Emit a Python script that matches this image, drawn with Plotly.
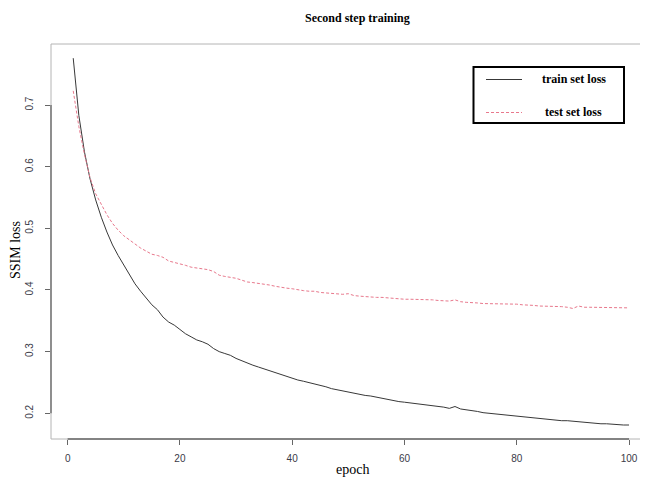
import plotly.graph_objects as go

epochs = list(range(1, 101))

train_loss = [
    0.776, 0.683, 0.624, 0.580, 0.546, 0.518, 0.494, 0.473, 0.456, 0.440,
    0.424, 0.410, 0.398, 0.387, 0.376, 0.368, 0.356, 0.348, 0.343, 0.336,
    0.329, 0.324, 0.319, 0.316, 0.312, 0.305, 0.300, 0.297, 0.294, 0.289,
    0.285, 0.281, 0.278, 0.275, 0.272, 0.268, 0.265, 0.262, 0.260, 0.257,
    0.254, 0.252, 0.250, 0.248, 0.245, 0.243, 0.240, 0.238, 0.236, 0.234,
    0.232, 0.230, 0.229, 0.228, 0.226, 0.224, 0.222, 0.220, 0.219, 0.218,
    0.217, 0.216, 0.215, 0.214, 0.212, 0.211, 0.210, 0.208, 0.211, 0.207,
    0.206, 0.204, 0.203, 0.201, 0.200, 0.199, 0.198, 0.197, 0.197, 0.196,
    0.195, 0.194, 0.193, 0.192, 0.191, 0.190, 0.189, 0.188, 0.188, 0.187,
    0.186, 0.186, 0.185, 0.184, 0.183, 0.183, 0.182, 0.182, 0.181, 0.181,
]

test_loss = [
    0.723, 0.665, 0.620, 0.582, 0.556, 0.538, 0.522, 0.508, 0.497, 0.488,
    0.481, 0.474, 0.468, 0.463, 0.458, 0.456, 0.453, 0.447, 0.445, 0.442,
    0.440, 0.437, 0.436, 0.435, 0.433, 0.430, 0.424, 0.422, 0.421, 0.419,
    0.416, 0.413, 0.412, 0.411, 0.410, 0.408, 0.406, 0.404, 0.403, 0.402,
    0.400, 0.399, 0.398, 0.398, 0.396, 0.395, 0.394, 0.393, 0.393, 0.394,
    0.391, 0.390, 0.389, 0.389, 0.388, 0.388, 0.387, 0.386, 0.386, 0.385,
    0.385, 0.385, 0.384, 0.384, 0.384, 0.383, 0.382, 0.382, 0.384, 0.381,
    0.380, 0.380, 0.379, 0.378, 0.378, 0.378, 0.377, 0.377, 0.377, 0.377,
    0.376, 0.376, 0.375, 0.374, 0.374, 0.374, 0.373, 0.373, 0.372, 0.370,
    0.374, 0.372, 0.372, 0.372, 0.372, 0.372, 0.372, 0.371, 0.371, 0.371,
]

x_ticks = [0, 20, 40, 60, 80, 100]
y_ticks = [0.2, 0.3, 0.4, 0.5, 0.6, 0.7]
series_names = ["train set loss", "test set loss"]
title_text = "Second step training"
x_title = "epoch"
y_title = "SSIM loss"

TRAIN_COLOR = "#383838"
TEST_COLOR = "#E8788C"
SERIF = "Liberation Serif, Times New Roman, serif"
SANS = "Liberation Sans, Arial, sans-serif"
TICK_FONT = dict(family=SANS, size=10, color="#3a3a48")

# the page body keeps its default 8px margin, so the figure is 8px smaller
OFF = 8
W, H = 648 - OFF, 479 - OFF
L, R, T, B = 51 - OFF, 0, 44 - OFF, 40
PW, PH = W - L - R, H - T - B


def px(xp):
    return (xp - OFF - L) / PW


def py(yp):
    return (H - B - (yp - OFF)) / PH


fig = go.Figure()
fig.add_trace(go.Scatter(x=epochs, y=train_loss, mode="lines", name=series_names[0],
                         line=dict(color=TRAIN_COLOR, width=1), showlegend=False))
fig.add_trace(go.Scatter(x=epochs, y=test_loss, mode="lines", name=series_names[1],
                         line=dict(color=TEST_COLOR, width=1, dash="3px,2px"), showlegend=False))

axis_common = dict(showgrid=False, zeroline=False, showline=False, ticks="outside",
                   ticklen=5, tickcolor="#666666", tickwidth=1, automargin=False,
                   tickfont=TICK_FONT)

# first x tick label ("0") is drawn as an annotation below, since plotly drops it here
x_ticktext = ["" if v == x_ticks[0] else str(v) for v in x_ticks]

fig.update_layout(
    width=W, height=H,
    margin=dict(l=L, r=R, t=T, b=B, autoexpand=False),
    paper_bgcolor="white", plot_bgcolor="white",
    xaxis=dict(range=[-2.96, 103.38], tickmode="array", tickvals=x_ticks,
               ticktext=x_ticktext, ticklabelstandoff=5, **axis_common),
    yaxis=dict(range=[0.1583, 0.799], tickmode="array", tickvals=y_ticks,
               ticktext=[f"{v:.1f}" for v in y_ticks],
               tickangle=-90, ticklabelstandoff=8, **axis_common),
    showlegend=False,
)

shapes = []
box = "#b4b4b4"
shapes.append(dict(type="line", xref="paper", yref="paper", x0=0, x1=1, y0=1, y1=1, line=dict(color=box, width=1)))
shapes.append(dict(type="line", xref="paper", yref="paper", x0=0, x1=0, y0=0, y1=1, line=dict(color=box, width=1)))
shapes.append(dict(type="line", xref="paper", yref="paper", x0=0, x1=1, y0=0, y1=0, line=dict(color=box, width=1)))
shapes.append(dict(type="line", xref="paper", yref="y", x0=0, x1=0, y0=y_ticks[0], y1=y_ticks[-1],
                   line=dict(color="#666666", width=1.3)))
shapes.append(dict(type="line", xref="x", yref="paper", x0=x_ticks[0], x1=x_ticks[-1], y0=0, y1=0,
                   line=dict(color="#666666", width=1.3)))
shapes.append(dict(type="rect", xref="paper", yref="paper", x0=px(473.5), x1=px(624), y0=py(67), y1=py(123),
                   line=dict(color="black", width=2), fillcolor="white", layer="above"))
shapes.append(dict(type="line", xref="paper", yref="paper", x0=px(486), x1=px(522), y0=py(79.5), y1=py(79.5),
                   line=dict(color=TRAIN_COLOR, width=1), layer="above"))
shapes.append(dict(type="line", xref="paper", yref="paper", x0=px(486), x1=px(522), y0=py(112.5), y1=py(112.5),
                   line=dict(color=TEST_COLOR, width=1, dash="3px,2px"), layer="above"))
fig.update_layout(shapes=shapes)

ann = []
ann.append(dict(text=str(x_ticks[0]), xref="x", yref="paper", x=x_ticks[0], y=py(458), xanchor="center",
                yanchor="middle", showarrow=False, font=TICK_FONT))
ann.append(dict(text=title_text, xref="paper", yref="paper", x=px(357), y=py(18), xanchor="center",
                yanchor="middle", showarrow=False, font=dict(family=SERIF, size=12, color="black", weight="bold")))
ann.append(dict(text=x_title, xref="paper", yref="paper", x=px(352), y=py(469), xanchor="center",
                yanchor="middle", showarrow=False, font=dict(family=SERIF, size=14, color="black")))
ann.append(dict(text=y_title, xref="paper", yref="paper", x=px(15), y=py(250), xanchor="center",
                yanchor="middle", textangle=-90, showarrow=False,
                font=dict(family=SERIF, size=14, color="black")))
ann.append(dict(text=series_names[0], xref="paper", yref="paper", x=px(540), y=py(79), xanchor="left",
                yanchor="middle", showarrow=False, font=dict(family=SERIF, size=12, color="black", weight="bold")))
ann.append(dict(text=series_names[1], xref="paper", yref="paper", x=px(543), y=py(112), xanchor="left",
                yanchor="middle", showarrow=False, font=dict(family=SERIF, size=12, color="black", weight="bold")))
fig.update_layout(annotations=ann)

fig.write_html("out.html", config={"displayModeBar": False})
